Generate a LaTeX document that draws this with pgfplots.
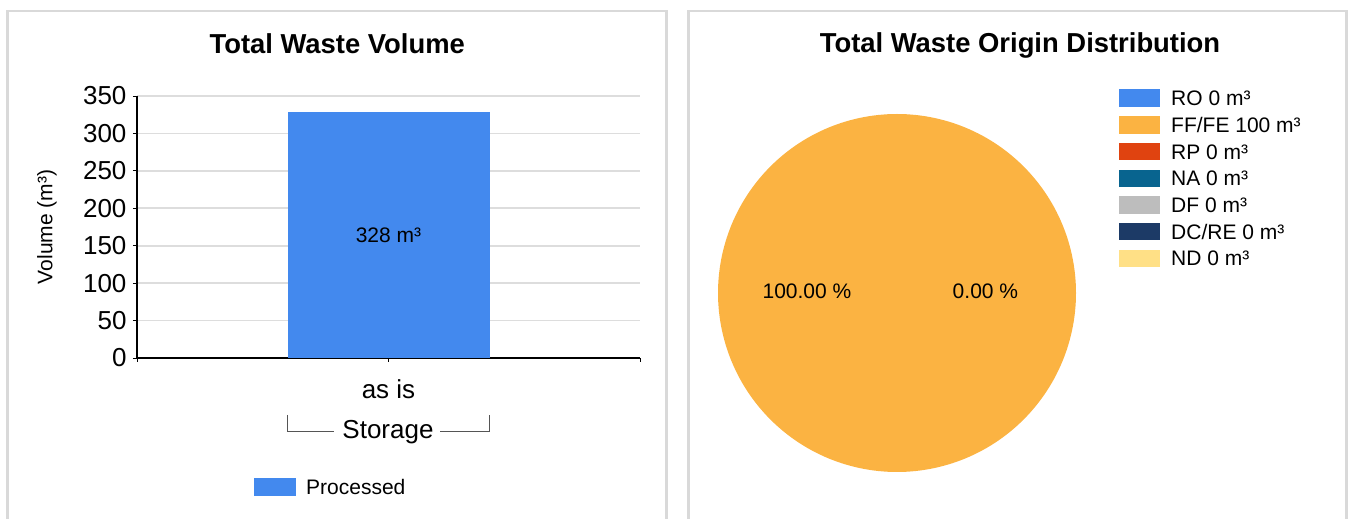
\documentclass[border=0pt]{standalone}
\usepackage{fontspec}
\setmainfont{Liberation Sans}
\usepackage{pgfplots}
\pgfplotsset{compat=1.18}
\definecolor{barblue}{HTML}{4389EE}
\definecolor{rocol}{HTML}{4389EE}
\definecolor{ffcol}{HTML}{FBB342}
\definecolor{rpcol}{HTML}{E04310}
\definecolor{nacol}{HTML}{08648F}
\definecolor{dfcol}{HTML}{BDBDBD}
\definecolor{dccol}{HTML}{1C3A66}
\definecolor{ndcol}{HTML}{FFE086}
\definecolor{gridgray}{HTML}{DDDDDD}
\definecolor{panelgray}{HTML}{D9D9D9}
\definecolor{brgray}{HTML}{555555}
\newcommand\fTick{\fontsize{26}{31}\selectfont}
\newcommand\fText{\fontsize{21}{25}\selectfont}
\newcommand\fTitle{\fontsize{27.4}{32}\selectfont\bfseries}
\begin{document}
\begin{tikzpicture}
\useasboundingbox (0pt,0pt) rectangle (1350pt,519pt);
\draw[panelgray, line width=2.5pt] (7.5pt,-5pt) -- (7.5pt,508pt) -- (666.5pt,508pt) -- (666.5pt,-5pt);
\draw[panelgray, line width=2.5pt] (688.5pt,-5pt) -- (688.5pt,508pt) -- (1346.5pt,508pt) -- (1346.5pt,-5pt);
\begin{axis}[
  at={(137pt,161pt)}, anchor=south west,
  scale only axis, width=503pt, height=262pt,
  xmin=0, xmax=1, ymin=0, ymax=350,
  axis lines*=left,
  axis line style={black, line width=1.6pt},
  ytick={0,50,...,350},
  xtick={0,0.5,1}, xticklabels={,as is,},
  tick align=outside, major tick length=4pt,
  tick style={black, line width=0.8pt},
  ymajorgrids, grid style={draw=gridgray, line width=1.6pt},
  /pgf/number format/assume math mode=true,
  ticklabel style={font=\fTick},
  xticklabel style={yshift=-14pt},
  yticklabel style={xshift=-3pt},
  ylabel={Volume (m³)},
  every axis y label/.style={at={(axis description cs:-0.179,0.5)}, rotate=90, anchor=center, font=\fText},
  title={Total Waste Volume},
  every axis title/.style={at={(axis description cs:0.398,1.164)}, anchor=base, font=\fTitle},
  legend image code/.code={\fill[#1] (0pt,-8pt) rectangle (42pt,10pt);},
  legend style={at={(axis description cs:0.2326,-0.458)}, anchor=north west, draw=none, fill=none, inner sep=0pt, font=\fText, column sep=10pt, nodes={inner sep=0pt, text height=16pt, text depth=4pt}},
  legend cell align=left,
]
\addplot[ybar, bar width=202pt, bar shift=0pt, fill=barblue, draw=none, forget plot] coordinates {(0.5,328)};
\addlegendimage{fill=barblue, draw=none}
\addlegendentry{Processed}
\node[font=\fText] at (axis cs:0.5,164) {328 m³};
\end{axis}
\draw[brgray, line width=1pt] (287pt,104pt) -- (287pt,87pt) -- (334pt,87pt);
\draw[brgray, line width=1pt] (440pt,87pt) -- (489pt,87pt) -- (489pt,104pt);
\node[anchor=base, font=\fTick, inner sep=0pt] at (388pt,80pt) {Storage};
\begin{axis}[
  at={(718pt,47pt)}, anchor=south west,
  scale only axis, width=358pt, height=358pt,
  xmin=-1, xmax=1, ymin=-1, ymax=1,
  hide axis,
  title={Total Waste Origin Distribution},
  every axis title/.style={at={(axis description cs:0.8436,1.1704)}, anchor=base, font=\fTitle},
  legend image code/.code={\fill[#1] (0pt,-7.2pt) rectangle (41pt,10.2pt);},
  legend style={at={(axis description cs:1.1201,1.069)}, anchor=north west, draw=none, fill=none, inner sep=0pt, font=\fText, column sep=11pt, row sep=6.27pt, nodes={inner sep=0pt, text height=16.4pt, text depth=4pt}},
  legend cell align=left,
]
\addlegendimage{fill=rocol, draw=none}
\addlegendentry{RO 0 m³}
\addlegendimage{fill=ffcol, draw=none}
\addlegendentry{FF/FE 100 m³}
\addlegendimage{fill=rpcol, draw=none}
\addlegendentry{RP 0 m³}
\addlegendimage{fill=nacol, draw=none}
\addlegendentry{NA 0 m³}
\addlegendimage{fill=dfcol, draw=none}
\addlegendentry{DF 0 m³}
\addlegendimage{fill=dccol, draw=none}
\addlegendentry{DC/RE 0 m³}
\addlegendimage{fill=ndcol, draw=none}
\addlegendentry{ND 0 m³}
% FF/FE slice: 100 % of the pie (360 degrees)
\addplot[fill=ffcol, draw=none, domain=0:360, samples=241, forget plot] ({cos(x)},{sin(x)}) -- cycle;
\node[anchor=base, font=\fText] at (axis cs:-0.503,-0.0335) {100.00 \%};
\node[anchor=base, font=\fText] at (axis cs:0.494,-0.0335) {0.00 \%};
\end{axis}
\end{tikzpicture}
\end{document}
